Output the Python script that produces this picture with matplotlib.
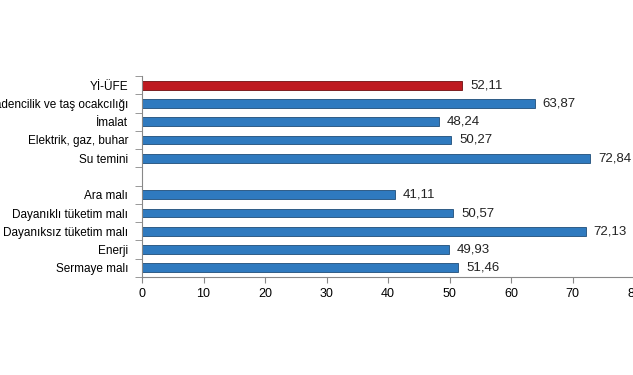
import matplotlib
matplotlib.use('Agg')
import matplotlib.pyplot as plt

# kategoriler (yukaridan asagiya), bos satir ayirici olarak
categories = ['Yİ-ÜFE', 'Madencilik ve taş ocakcılığı', 'İmalat', 'Elektrik, gaz, buhar',
              'Su temini', '', 'Ara malı', 'Dayanıklı tüketim malı',
              'Dayanıksız tüketim malı', 'Enerji', 'Sermaye malı']
values = [52.11, 63.87, 48.24, 50.27, 72.84, None, 41.11, 50.57, 72.13, 49.93, 51.46]
xticks = [0, 10, 20, 30, 40, 50, 60, 70, 80]

plt.rcParams['font.family'] = ['Liberation Sans', 'DejaVu Sans']

fig = plt.figure(figsize=(6.33, 3.75), dpi=100)
W, H = 633, 375
left, right, top, bottom = 142, 634, 76, 277
ax = fig.add_axes([left / W, 1 - bottom / H, (right - left) / W, (bottom - top) / H])

n = len(categories)
ypos = list(range(n))
for i, v in enumerate(values):
    if v is None:
        continue
    col = '#BE1A20' if i == 0 else '#2F7ABF'
    edge = '#6E0E10' if i == 0 else '#1F4E79'
    ax.barh(i, v, height=0.48, color=col, edgecolor=edge, linewidth=0.6)
    ax.text(v + 1.3, i, f'{v:.2f}'.replace('.', ','), va='center', ha='left',
            fontsize=9.5, color='#222222')

ax.set_ylim(n - 0.5, -0.5)
ax.set_xlim(0, 80)
ax.set_yticks(ypos)
ax.set_yticklabels(categories, fontsize=8.5)
ax.tick_params(axis='y', length=0, pad=10)
ax.set_yticks([i - 0.5 for i in range(n + 1)], minor=True)
ax.tick_params(axis='y', which='minor', length=5, color='#888888')
ax.set_xticks(xticks)
ax.set_xticklabels([str(t) for t in xticks], fontsize=9)
ax.tick_params(axis='x', length=4, color='#888888', pad=4)

for s in ['top', 'right']:
    ax.spines[s].set_visible(False)
ax.spines['left'].set_color('#888888')
ax.spines['bottom'].set_color('#888888')

fig.savefig('out.png', dpi=100)
